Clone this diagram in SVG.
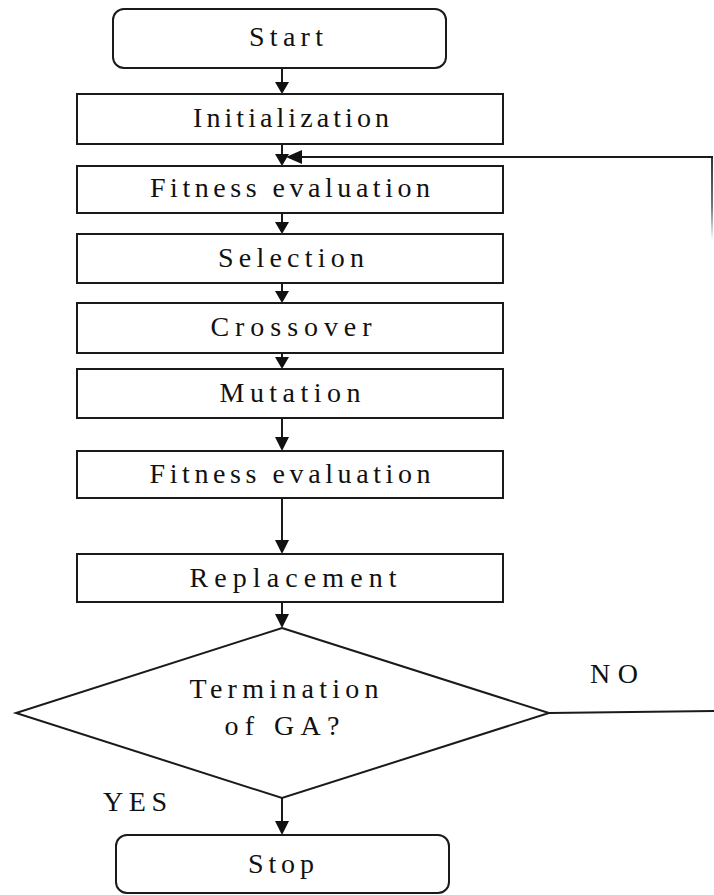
<svg xmlns="http://www.w3.org/2000/svg" width="714" height="895" viewBox="0 0 714 895">
<style>
.box{fill:#fff;stroke:#1a1a1a;stroke-width:2}
.t{font-family:"Liberation Serif","Times New Roman",serif;font-size:28px;fill:#111;text-anchor:middle}
.c{stroke:#1a1a1a;stroke-width:2;fill:none}
.ah{fill:#111}
</style>
<defs>
<linearGradient id="fade" gradientUnits="userSpaceOnUse" x1="0" y1="157" x2="0" y2="240">
<stop offset="0" stop-color="#333"/>
<stop offset="0.6" stop-color="#777"/>
<stop offset="1" stop-color="#fff"/>
</linearGradient>
</defs>
<rect width="714" height="895" fill="#fff"/>
<g id="connectors">
<line class="c" x1="282" y1="68" x2="282" y2="84"/><polygon class="ah" points="275,82 289,82 282,94"/>
<line class="c" x1="282" y1="144" x2="282" y2="156"/><polygon class="ah" points="275,154 289,154 282,166"/>
<line class="c" x1="282" y1="213" x2="282" y2="224"/><polygon class="ah" points="275,222 289,222 282,234"/>
<line class="c" x1="282" y1="283" x2="282" y2="293"/><polygon class="ah" points="275,291 289,291 282,303"/>
<line class="c" x1="282" y1="353" x2="282" y2="359"/><polygon class="ah" points="275,357 289,357 282,369"/>
<line class="c" x1="282" y1="418" x2="282" y2="441"/><polygon class="ah" points="275,437 289,437 282,451"/>
<line class="c" x1="282" y1="498" x2="282" y2="544"/><polygon class="ah" points="275,540 289,540 282,554"/>
<line class="c" x1="282" y1="602" x2="282" y2="618"/><polygon class="ah" points="275,614 289,614 282,628"/>
<line class="c" x1="282" y1="798" x2="282" y2="825"/><polygon class="ah" points="275,821 289,821 282,835"/>
<line class="c" x1="549" y1="713" x2="714" y2="711"/>
<line x1="712" y1="157" x2="712" y2="240" stroke="url(#fade)" stroke-width="2"/>
<line class="c" x1="713" y1="157" x2="296" y2="157"/><polygon class="ah" points="286,157 302,150 302,164"/>
</g>
<g id="start"><rect class="box" x="113" y="9" width="333" height="59" rx="11"/><text class="t" x="286" y="46" textLength="74">Start</text></g>
<g id="init"><rect class="box" x="77" y="94" width="426" height="50"/><text class="t" x="291" y="127" textLength="196">Initialization</text></g>
<g id="fitness1"><rect class="box" x="77" y="166" width="426" height="47"/><text class="t" x="290" y="197" textLength="280">Fitness evaluation</text></g>
<g id="selection"><rect class="box" x="77" y="234" width="426" height="49"/><text class="t" x="291" y="267" textLength="146">Selection</text></g>
<g id="crossover"><rect class="box" x="77" y="303" width="426" height="50"/><text class="t" x="291" y="336" textLength="161">Crossover</text></g>
<g id="mutation"><rect class="box" x="77" y="369" width="426" height="49"/><text class="t" x="290" y="402" textLength="141">Mutation</text></g>
<g id="fitness2"><rect class="box" x="77" y="451" width="426" height="47"/><text class="t" x="290" y="483" textLength="281">Fitness evaluation</text></g>
<g id="replacement"><rect class="box" x="77" y="554" width="426" height="48"/><text class="t" x="293" y="587" textLength="207">Replacement</text></g>
<g id="decision"><polygon class="box" points="282,628 549,713 282,798 16,713"/><text class="t" x="284" y="698" textLength="189">Termination</text><text class="t" x="282" y="735" textLength="115">of GA?</text></g>
<g id="stop"><rect class="box" x="116" y="835" width="333" height="58" rx="11"/><text class="t" x="281" y="873" textLength="66">Stop</text></g>
<g id="labels"><text class="t" x="614" y="683" textLength="48">NO</text><text class="t" x="135" y="811" textLength="64">YES</text></g>
</svg>
